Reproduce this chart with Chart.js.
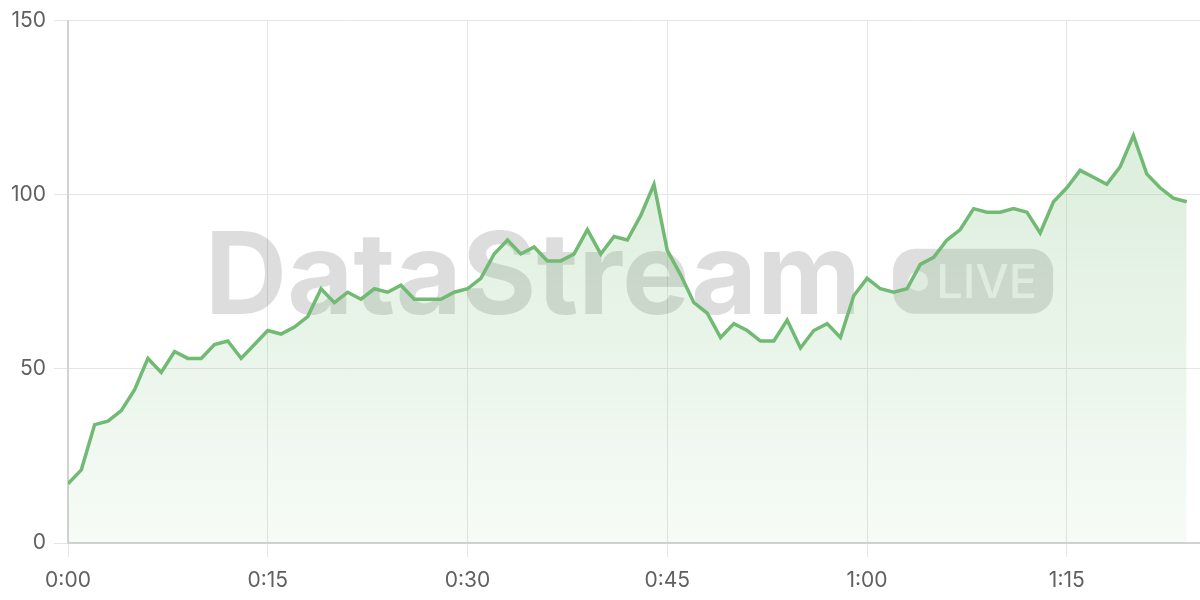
<!DOCTYPE html>
<html>
<head>
<meta charset="utf-8">
<script src="https://cdn.jsdelivr.net/npm/chart.js@4.4.1/dist/chart.umd.min.js"></script>
<style>
  html, body { margin: 0; padding: 0; background: #ffffff; }
  #wrap { width: 1200px; height: 600px; position: relative; }
</style>
</head>
<body>
<div id="wrap"><canvas id="c" width="1200" height="600"></canvas></div>
<script>
// ---- Data ----
const minutes = [
  0, 1, 2, 3, 4, 5, 6, 7, 8, 9, 10, 11, 12, 13, 14, 15, 16, 17, 18, 19,
  20, 21, 22, 23, 24, 25, 26, 27, 28, 29, 30, 31, 32, 33, 34, 35, 36, 37, 38, 39,
  40, 41, 42, 43, 44, 45, 46, 47, 48, 49, 50, 51, 52, 53, 54, 55, 56, 57, 58, 59,
  60, 61, 62, 63, 64, 65, 66, 67, 68, 69, 70, 71, 72, 73, 74, 75, 76, 77, 78, 79,
  80, 81, 82, 83, 84
];
const viewers = [
  17, 21, 34, 35, 38, 44, 53, 49, 55, 53, 53, 57, 58, 53, 57, 61, 60, 62, 65, 73,
  69, 72, 70, 73, 72, 74, 70, 70, 70, 72, 73, 76, 83, 87, 83, 85, 81, 81, 83, 90,
  83, 88, 87, 94, 103, 84, 77, 69, 66, 59, 63, 61, 58, 58, 64, 56, 61, 63, 59, 71,
  76, 73, 72, 73, 80, 82, 87, 90, 96, 95, 95, 96, 95, 89, 98, 102, 107, 105, 103, 108,
  117, 106, 102, 99, 98
];
const xTickMinutes = [0, 15, 30, 45, 60, 75];
const yTicks = [0, 50, 100, 150];
const watermarkTitle = "DataStream";
const watermarkBadge = "LIVE";

const points = minutes.map((m, i) => ({ x: m, y: viewers[i] }));

const watermarkPlugin = {
  id: 'watermark',
  beforeDatasetsDraw(chart) {
    const { ctx, chartArea } = chart;
    const cx = (chartArea.left + chartArea.right) / 2 - 5;
    const cy = (chartArea.top + chartArea.bottom) / 2;
    ctx.save();
    ctx.font = 'bold 114px Inter, "Open Sans", sans-serif';
    const tw = ctx.measureText(watermarkTitle).width;
    const gap = 32, pillW = 160, pillH = 65;
    const total = tw + gap + pillW;
    const x0 = cx - total / 2;
    const baseline = cy + 32;
    ctx.fillStyle = 'rgba(0,0,0,0.135)';
    ctx.textBaseline = 'alphabetic';
    ctx.textAlign = 'left';
    ctx.fillText(watermarkTitle, x0, baseline);
    // pill
    const px = x0 + tw + gap, py = baseline - pillH;
    ctx.beginPath();
    ctx.roundRect(px, py, pillW, pillH, 22);
    ctx.fillStyle = 'rgba(0,0,0,0.13)';
    ctx.fill();
    // dot
    ctx.beginPath();
    ctx.arc(px + 25, py + pillH / 2, 10, 0, Math.PI * 2);
    ctx.fillStyle = 'rgba(255,255,255,0.7)';
    ctx.fill();
    ctx.font = '500 47px Inter, "Open Sans", sans-serif';
    ctx.fillText(watermarkBadge, px + 43, py + 49);
    ctx.restore();
  }
};

const fmt = v => Math.floor(v / 60) + ':' + String(v % 60).padStart(2, '0');

new Chart(document.getElementById('c'), {
  type: 'line',
  data: {
    datasets: [{
      data: points,
      borderColor: '#71ba73',
      borderWidth: 3.5,
      tension: 0,
      pointRadius: 0,
      fill: true,
      backgroundColor(context) {
        const { chart } = context;
        const a = chart.chartArea;
        if (!a) return 'rgba(113,186,115,0.15)';
        const g = chart.ctx.createLinearGradient(0, a.top, 0, a.bottom);
        g.addColorStop(0, 'rgba(113,186,115,0.30)');
        g.addColorStop(1, 'rgba(113,186,115,0.06)');
        return g;
      }
    }]
  },
  options: {
    responsive: false,
    animation: false,
    layout: { padding: { top: 19, right: 0, left: 0, bottom: 0 } },
    plugins: { legend: { display: false }, tooltip: { enabled: false } },
    scales: {
      x: {
        type: 'linear',
        min: 0,
        max: 85,
        afterBuildTicks(scale) { scale.ticks = xTickMinutes.map(v => ({ value: v })); },
        afterFit(scale) { scale.height = 57; },
        ticks: {
          callback: v => fmt(v),
          color: '#606060',
          font: { family: 'Inter', size: 21 },
          padding: 11,
          maxRotation: 0
        },
        grid: { color: '#e6e6e6', lineWidth: 1, tickLength: 14, drawTicks: true },
        border: { color: '#d2d2d2', width: 2 }
      },
      y: {
        min: 0,
        max: 150,
        afterBuildTicks(scale) { scale.ticks = yTicks.map(v => ({ value: v })); },
        afterFit(scale) { scale.width = 68; },
        ticks: {
          color: '#606060',
          font: { family: 'Inter', size: 21 },
          padding: 8
        },
        grid: { color: '#e6e6e6', lineWidth: 1, tickLength: 14 },
        border: { color: '#d2d2d2', width: 2 }
      }
    }
  },
  plugins: [watermarkPlugin]
});
</script>
</body>
</html>
